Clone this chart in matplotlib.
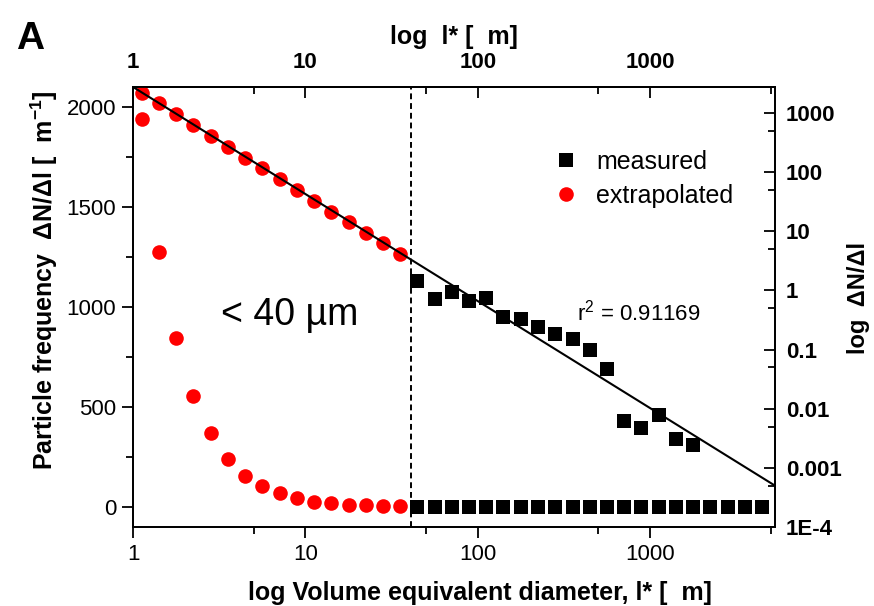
import matplotlib
matplotlib.use('Agg')
import matplotlib.pyplot as plt
from matplotlib.ticker import FixedLocator, FixedFormatter, NullFormatter

plt.rcParams['font.family'] = ['Liberation Sans', 'DejaVu Sans']
plt.rcParams['mathtext.fontset'] = 'custom'
plt.rcParams['mathtext.rm'] = 'Liberation Sans'
plt.rcParams['mathtext.bf'] = 'Liberation Sans:bold'
plt.rcParams['mathtext.default'] = 'regular'

# volume equivalent diameter (um), 10 classes per decade
ext_d = [1.12, 1.41, 1.78, 2.24, 2.82, 3.55, 4.47, 5.62, 7.08, 8.91,
         11.2, 14.1, 17.8, 22.4, 28.2, 35.5]
ext_lin = [1938, 1277, 843, 557, 368, 242, 157, 105, 68, 43,
           27, 18, 10, 8, 6, 6]
ext_log = [2178, 1476, 961, 634, 402, 262, 173, 117, 76.4, 50.4,
           32.8, 21.6, 14.1, 9.33, 6.31, 4.16]

meas_d = [44.7, 56.2, 70.8, 89.1, 112, 141, 178, 224, 282, 355, 447,
          562, 708, 891, 1122, 1413, 1778, 2239, 2818, 3548, 4467]
meas_lin = [0] * len(meas_d)
meas_log = [1.42, 0.713, 0.957, 0.667, 0.741, 0.353, 0.327, 0.239, 0.185,
            0.150, 0.0989, 0.0471, 0.00622, 0.00479, 0.00785, 0.00305, 0.00244]

fit_d = [1, 5300]
fit_n = [2754, 5.0e-4]
cutoff = 41

x_ticks = [1, 10, 100, 1000]
x_labels = ['1', '10', '100', '1000']
x_minor = [5, 50, 500, 5000]
r_ticks = [1e-4, 1e-3, 1e-2, 1e-1, 1, 10, 100, 1000]
r_labels = ['1E-4', '0.001', '0.01', '0.1', '1', '10', '100', '1000']
r_minor = [5e-4, 5e-3, 5e-2, 5e-1, 5, 50, 500]

red = '#ff0000'

fig = plt.figure(figsize=(8.74, 6.06), dpi=100)
ax = fig.add_axes([0.1522, 0.1304, 0.7345, 0.726])
ax.set_xscale('log')
ax.set_xlim(1, 5300)
ax.set_ylim(-100, 2100)

axr = ax.twinx()
axr.set_yscale('log')
axr.set_ylim(1e-4, 2750)

# linear scale data (left)
ax.plot(ext_d, ext_lin, 'o', color=red, ms=10.5, mew=0)
ax.plot(meas_d, meas_lin, 's', color='k', ms=10, mew=0)
ax.axvline(cutoff, color='k', ls=(0, (3, 2)), lw=1.4)

# log scale data (right)
axr.plot(ext_d, ext_log, 'o', color=red, ms=10.5, mew=0)
axr.plot(meas_d[:len(meas_log)], meas_log, 's', color='k', ms=10, mew=0)
axr.plot(fit_d, fit_n, '-', color='k', lw=1.5)

# legend
hm, = axr.plot([], [], 's', color='k', ms=10, mew=0, label='measured')
he, = axr.plot([], [], 'o', color=red, ms=10.5, mew=0, label='extrapolated')
axr.legend(handles=[hm, he], loc='upper left', bbox_to_anchor=(0.608, 0.790),
           bbox_transform=fig.transFigure, frameon=False, fontsize=18,
           handlelength=1.0, handletextpad=0.7, labelspacing=0.4)

# axes styling
for a in (ax, axr):
    for s in a.spines.values():
        s.set_linewidth(1.3)

ax.xaxis.set_major_locator(FixedLocator(x_ticks))
ax.xaxis.set_major_formatter(FixedFormatter(x_labels))
ax.xaxis.set_minor_locator(FixedLocator(x_minor))
ax.xaxis.set_minor_formatter(NullFormatter())
ax.set_yticks([0, 500, 1000, 1500, 2000])
ax.set_yticks([250, 750, 1250, 1750], minor=True)
ax.tick_params(which='both', direction='out', labelsize=16, width=1.3, pad=4)
ax.tick_params(which='major', length=8)
ax.tick_params(which='minor', length=5)

axr.yaxis.set_major_locator(FixedLocator(r_ticks))
axr.yaxis.set_major_formatter(FixedFormatter(r_labels))
axr.yaxis.set_minor_locator(FixedLocator(r_minor))
axr.yaxis.set_minor_formatter(NullFormatter())
axr.tick_params(which='both', direction='in', labelsize=16, width=1.3, pad=8)
axr.tick_params(which='major', length=8)
axr.tick_params(which='minor', length=5)
for t in axr.get_yticklabels():
    t.set_fontweight('bold')

top = ax.secondary_xaxis('top')
top.xaxis.set_major_locator(FixedLocator(x_ticks))
top.xaxis.set_major_formatter(FixedFormatter(x_labels))
top.xaxis.set_minor_locator(FixedLocator(x_minor))
top.xaxis.set_minor_formatter(NullFormatter())
top.tick_params(which='both', direction='in', labelsize=16, width=1.3, pad=10)
top.tick_params(which='major', length=8)
top.tick_params(which='minor', length=5)
top.spines['top'].set_linewidth(1.3)
for t in top.get_xticklabels():
    t.set_fontweight('bold')

lab = dict(fontsize=18, fontweight='bold')
ax.set_xlabel('log Volume equivalent diameter, l* [  m]', **lab)
ax.xaxis.set_label_coords(0.54, -0.122)
top.set_xlabel('log  l* [  m]', labelpad=6, **lab)
ax.set_ylabel('Particle frequency  \u0394N/\u0394l [  m$^{-1}$]', **lab)
ax.yaxis.set_label_coords(-0.113, 0.56)
axr.set_ylabel('log  \u0394N/\u0394l', fontsize=17, fontweight='bold')
axr.yaxis.set_label_coords(1.112, 0.52)

fig.text(0.018, 0.935, 'A', fontsize=28, fontweight='bold', va='center')
fig.text(0.332, 0.481, '< 40 \u00b5m', fontsize=27, ha='center', va='center')
fig.text(0.660, 0.485, 'r$^2$ = 0.91169', fontsize=16, ha='left', va='center')

fig.savefig('out.png', dpi=100)
